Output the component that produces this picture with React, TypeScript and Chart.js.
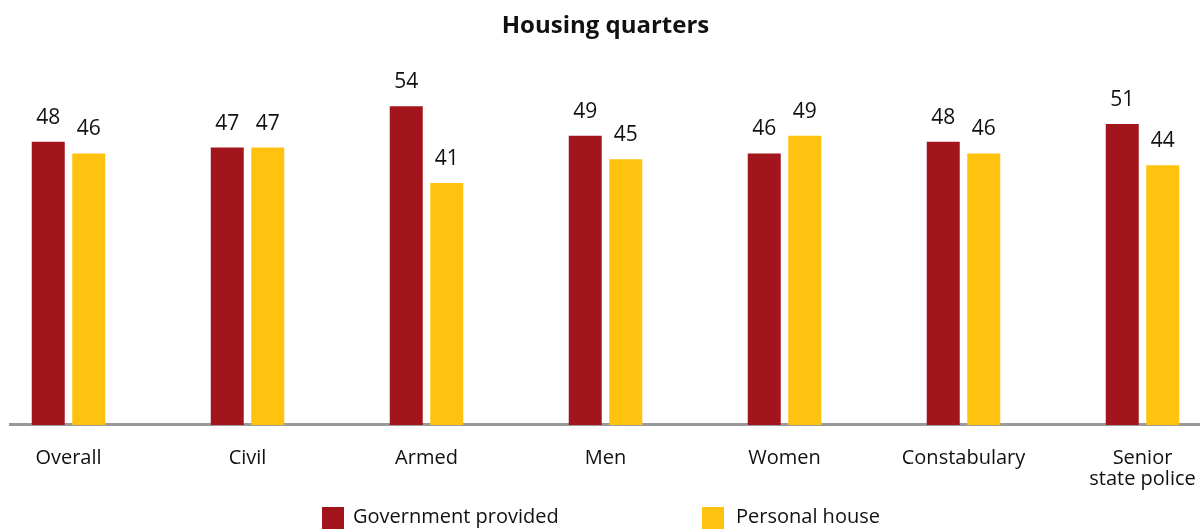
import { useEffect, useRef } from 'react';
import { Chart, registerables } from 'chart.js';

Chart.register(...registerables);

const titleText = 'Housing quarters';
const categories: (string | string[])[] = ['Overall', 'Civil', 'Armed', 'Men', 'Women', 'Constabulary', ['Senior', 'state police']];
const governmentProvided = [48, 47, 54, 49, 46, 48, 51];
const personalHouse = [46, 47, 41, 45, 49, 46, 44];
const seriesNames = ['Government provided', 'Personal house'];
const seriesColors = ['#A3151C', '#FFC20F'];
const yMin = 0;
const yMax = 60;

const FONT = '"Open Sans", "Noto Sans", sans-serif';
const TEXT_COLOR = '#111111';

const axisLinePlugin = {
  id: 'axisLine',
  beforeDatasetsDraw(chart: any) {
    const { ctx, chartArea, scales } = chart;
    const y0 = scales.y.getPixelForValue(0);
    ctx.save();
    ctx.strokeStyle = '#9a9a9a';
    ctx.lineWidth = 3;
    ctx.beginPath();
    ctx.moveTo(chartArea.left + 30, y0 - 0.5);
    ctx.lineTo(chartArea.right - 10, y0 - 0.5);
    ctx.stroke();
    ctx.restore();
  },
};

const valueLabelPlugin = {
  id: 'valueLabels',
  afterDatasetsDraw(chart: any) {
    const { ctx } = chart;
    ctx.save();
    ctx.font = `21px ${FONT}`;
    ctx.fillStyle = TEXT_COLOR;
    ctx.textAlign = 'center';
    ctx.textBaseline = 'alphabetic';
    chart.data.datasets.forEach((ds: any, i: number) => {
      const meta = chart.getDatasetMeta(i);
      meta.data.forEach((bar: any, j: number) => {
        ctx.fillText(String(ds.data[j]), bar.x, bar.y - 18);
      });
    });
    ctx.restore();
  },
};

const legendPlugin = {
  id: 'bottomLegend',
  afterDraw(chart: any) {
    const { ctx, chartArea } = chart;
    const cx = (chartArea.left + chartArea.right) / 2;
    const offsets = [-283.5, 96.5];
    const gaps = [9, 12];
    const box = 22;
    const top = 507;
    ctx.save();
    ctx.font = `20px ${FONT}`;
    ctx.textAlign = 'left';
    ctx.textBaseline = 'middle';
    chart.data.datasets.forEach((ds: any, i: number) => {
      const x = cx + offsets[i];
      ctx.fillStyle = ds.backgroundColor;
      ctx.fillRect(x, top, box, box);
      ctx.fillStyle = TEXT_COLOR;
      ctx.fillText(ds.label, x + box + gaps[i], top + 10);
    });
    ctx.restore();
  },
};

export default function App() {
  const canvasRef = useRef<HTMLCanvasElement | null>(null);

  useEffect(() => {
    if (!canvasRef.current) return;
    Chart.defaults.font.family = FONT;
    const chart = new Chart(canvasRef.current, {
      type: 'bar',
      data: {
        labels: categories as any,
        datasets: [
          {
            label: seriesNames[0],
            data: governmentProvided,
            backgroundColor: seriesColors[0],
            barPercentage: 0.815,
            categoryPercentage: 0.4525,
          },
          {
            label: seriesNames[1],
            data: personalHouse,
            backgroundColor: seriesColors[1],
            barPercentage: 0.815,
            categoryPercentage: 0.4525,
          },
        ],
      },
      options: {
        responsive: true,
        maintainAspectRatio: false,
        animation: false,
        layout: { padding: { left: 0, right: 0, top: 0, bottom: 16 } },
        plugins: {
          legend: { display: false },
          tooltip: { enabled: false },
          title: {
            display: true,
            text: titleText,
            color: TEXT_COLOR,
            font: { family: FONT, size: 24, weight: 'bold', lineHeight: 1.2 },
            padding: { top: 12, bottom: 30 },
          },
        },
        scales: {
          x: {
            grid: { display: false, drawTicks: false },
            border: { display: false },
            ticks: {
              color: TEXT_COLOR,
              font: { family: FONT, size: 20, lineHeight: 1.05 },
              padding: 23,
              maxRotation: 0,
              autoSkip: false,
            },
          },
          y: {
            display: false,
            min: yMin,
            max: yMax,
          },
        },
      },
      plugins: [axisLinePlugin, valueLabelPlugin, legendPlugin],
    });
    return () => chart.destroy();
  }, []);

  return (
    <div style={{ position: 'absolute', left: 0, top: 0, width: 1200, height: 529, overflow: 'hidden', background: '#fff' }}>
      <div style={{ position: 'absolute', left: -21, top: 0, width: 1253, height: 529 }}>
        <canvas ref={canvasRef} />
      </div>
    </div>
  );
}
